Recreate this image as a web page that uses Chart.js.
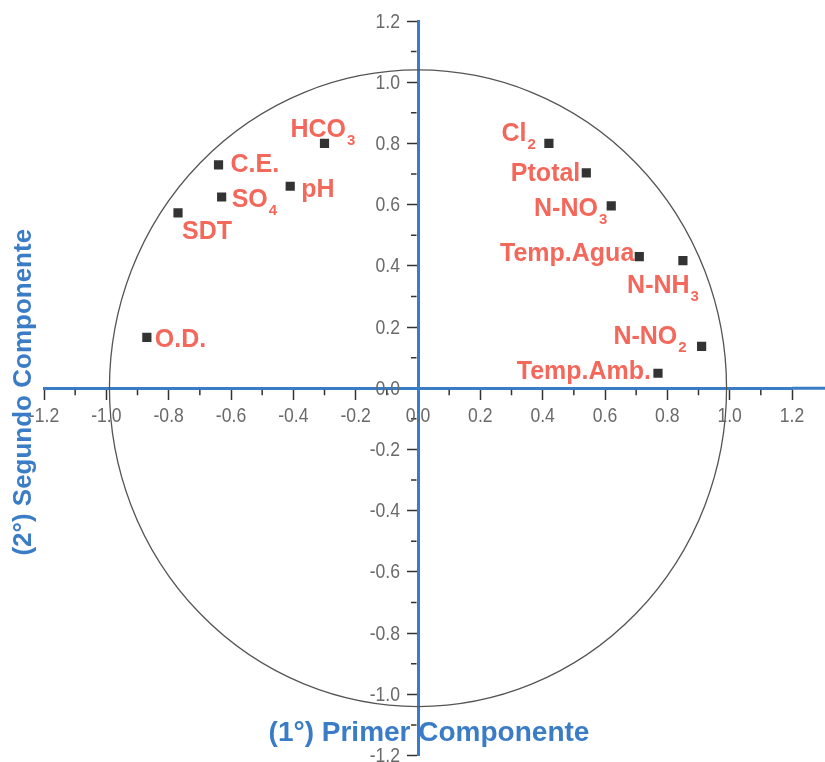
<!DOCTYPE html>
<html>
<head>
<meta charset="utf-8">
<script src="https://cdn.jsdelivr.net/npm/chart.js@4.4.1/dist/chart.umd.min.js"></script>
<style>
    html, body { margin: 0; padding: 0; background: #fff; }
</style>
</head>
<body>
<canvas id="grafico" width="825" height="762"></canvas>
<script>
// variaveis e cargas nos dois componentes
const variaveis = ['HCO', 'C.E.', 'SO', 'pH', 'SDT', 'O.D.', 'Cl', 'Ptotal', 'N-NO', 'Temp.Agua', 'N-NH', 'N-NO', 'Temp.Amb.'];
const subscritos = ['3', '', '4', '', '', '', '2', '', '3', '', '3', '2', ''];
const componente1 = [-0.30, -0.64, -0.63, -0.41, -0.77, -0.87, 0.42, 0.54, 0.62, 0.71, 0.85, 0.91, 0.77];
const componente2 = [0.80, 0.73, 0.625, 0.66, 0.573, 0.166, 0.80, 0.704, 0.596, 0.43, 0.417, 0.137, 0.049];

// circulo de correlacao (raio)
const raioX = 0.99;
const raioY = 1.04;

// onde fica cada rotulo em relacao ao ponto
const posRotulo = [
    { lado: 'left', dx: -34, dy: -6 },
    { lado: 'left', dx: 12, dy: 7 },
    { lado: 'left', dx: 10, dy: 10 },
    { lado: 'left', dx: 11, dy: 11 },
    { lado: 'left', dx: 4, dy: 26 },
    { lado: 'left', dx: 8, dy: 10 },
    { lado: 'right', dx: -13, dy: -2 },
    { lado: 'right', dx: -6, dy: 8 },
    { lado: 'right', dx: -4, dy: 10 },
    { lado: 'right', dx: -5, dy: 4 },
    { lado: 'right', dx: 16, dy: 32 },
    { lado: 'right', dx: -15, dy: -2 },
    { lado: 'right', dx: -7, dy: 6 }
];

const azul = '#3b7cc6';
const vermelho = '#f4675b';
const fonteTexto = '"Liberation Sans", Arial, sans-serif';

const pontos = componente1.map((x, i) => ({ x, y: componente2[i] }));

// texto estreito (tipo Arial Narrow) com escala horizontal
function textoEstreito(ctx, txt, x, y, align) {
    const k = 0.88;
    const w = ctx.measureText(txt).width * k;
    let x0 = x;
    if (align === 'right') x0 = x - w;
    if (align === 'center') x0 = x - w / 2;
    ctx.save();
    ctx.translate(x0, y);
    ctx.scale(k, 1);
    ctx.textAlign = 'left';
    ctx.fillText(txt, 0, 0);
    ctx.restore();
}

const extras = {
    id: 'extras',
    beforeDatasetsDraw(chart) {
        const { ctx, chartArea } = chart;
        const sx = chart.scales.x;
        const sy = chart.scales.y;
        const cx = sx.getPixelForValue(0);
        const cy = sy.getPixelForValue(0);

        ctx.save();

        // circulo
        ctx.strokeStyle = '#555';
        ctx.lineWidth = 1.3;
        ctx.beginPath();
        ctx.ellipse(cx, cy, sx.getPixelForValue(raioX) - cx, cy - sy.getPixelForValue(raioY), 0, 0, Math.PI * 2);
        ctx.stroke();

        // eixo x continua ate a borda
        ctx.strokeStyle = azul;
        ctx.lineWidth = 3;
        ctx.beginPath();
        ctx.moveTo(chartArea.right, cy);
        ctx.lineTo(chart.width, cy);
        ctx.stroke();

        // ticks menores
        ctx.strokeStyle = '#333';
        ctx.lineWidth = 1.5;
        ctx.beginPath();
        for (let i = -11; i <= 11; i += 2) {
            const px = sx.getPixelForValue(i / 10);
            ctx.moveTo(px, cy + 1.5);
            ctx.lineTo(px, cy + 7);
            const py = sy.getPixelForValue(i / 10);
            ctx.moveTo(cx - 1.5, py);
            ctx.lineTo(cx - 7, py);
        }
        ctx.stroke();

        // valores dos eixos
        ctx.fillStyle = '#6a6a6a';
        ctx.font = '20px ' + fonteTexto;
        ctx.textBaseline = 'middle';
        sx.ticks.forEach(t => {
            textoEstreito(ctx, t.value.toFixed(1), sx.getPixelForValue(t.value), cy + 28, 'center');
        });
        sy.ticks.forEach(t => {
            textoEstreito(ctx, t.value.toFixed(1), cx - 18, sy.getPixelForValue(t.value) + 1, 'right');
        });

        // rotulos das variaveis
        const meta = chart.getDatasetMeta(0);
        ctx.fillStyle = vermelho;
        ctx.textBaseline = 'alphabetic';
        meta.data.forEach((p, i) => {
            const pos = posRotulo[i];
            ctx.font = 'bold 25px ' + fonteTexto;
            const wMain = ctx.measureText(variaveis[i]).width;
            ctx.font = 'bold 15px ' + fonteTexto;
            const wSub = subscritos[i] ? ctx.measureText(subscritos[i]).width + 1 : 0;
            let x = p.x + pos.dx;
            if (pos.lado === 'right') x -= wMain + wSub;
            const y = p.y + pos.dy;
            ctx.font = 'bold 25px ' + fonteTexto;
            ctx.textAlign = 'left';
            ctx.fillText(variaveis[i], x, y);
            if (subscritos[i]) {
                ctx.font = 'bold 15px ' + fonteTexto;
                ctx.fillText(subscritos[i], x + wMain + 1, y + 8);
            }
        });

        // titulos dos eixos
        ctx.fillStyle = azul;
        ctx.textAlign = 'center';
        ctx.font = 'bold 28px ' + fonteTexto;
        ctx.fillText('(1°) Primer Componente', (chartArea.left + chartArea.right) / 2 + 11, chartArea.bottom - 15);

        ctx.translate(chartArea.left - 13, (chartArea.top + chartArea.bottom) / 2 + 4);
        ctx.rotate(-Math.PI / 2);
        ctx.font = 'bold 26px ' + fonteTexto;
        ctx.fillText('(2°) Segundo Componente', 0, 0);

        ctx.restore();
    }
};

function eixo(pos) {
    return {
        type: 'linear',
        min: -1.2,
        max: 1.2,
        position: pos,
        ticks: {
            stepSize: 0.2,
            autoSkip: false,
            display: false
        },
        grid: {
            drawOnChartArea: false,
            drawTicks: true,
            tickLength: 10,
            tickColor: '#333',
            tickWidth: 1.5
        },
        border: { display: true, color: azul, width: 3 }
    };
}

const chart = new Chart(document.getElementById('grafico'), {
    type: 'scatter',
    data: {
        datasets: [{
            data: pontos,
            pointStyle: 'rect',
            pointRadius: 6.5,
            pointHoverRadius: 6.5,
            backgroundColor: '#333',
            borderColor: '#333',
            borderWidth: 0
        }]
    },
    options: {
        responsive: false,
        animation: false,
        layout: { padding: { left: 44, right: 33, top: 21, bottom: 5 } },
        plugins: { legend: { display: false }, tooltip: { enabled: false } },
        scales: {
            x: eixo({ y: 0 }),
            y: eixo({ x: 0 })
        }
    },
    plugins: [extras]
});
</script>
</body>
</html>
